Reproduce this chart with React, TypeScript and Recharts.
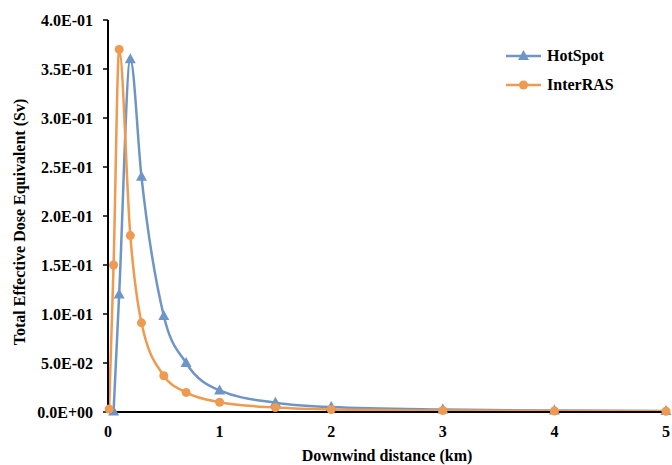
import React from 'react';
import { LineChart, Line, XAxis, YAxis, Legend, Label } from 'recharts';

const hotspotDist = [0.05, 0.1, 0.2, 0.3, 0.5, 0.7, 1, 1.5, 2, 3, 4, 5];
const hotspotDose = [0.0005, 0.12, 0.36, 0.24, 0.098, 0.05, 0.022, 0.0095, 0.005, 0.0025, 0.0015, 0.001];
const interrasDist = [0.01, 0.05, 0.1, 0.2, 0.3, 0.5, 0.7, 1, 1.5, 2, 3, 4, 5];
const interrasDose = [0.003, 0.15, 0.37, 0.18, 0.091, 0.037, 0.02, 0.01, 0.0045, 0.0025, 0.0015, 0.001, 0.0008];
const xTicks = [0, 1, 2, 3, 4, 5];
const yTicks = [0, 0.05, 0.1, 0.15, 0.2, 0.25, 0.3, 0.35, 0.4];

const BLUE = '#6F95C7';
const ORANGE = '#EE9A50';
const FONT = '"Liberation Serif", "Times New Roman", serif';

const hotspotData = hotspotDist.map((d, i) => ({ dist: d, dose: hotspotDose[i] }));
const interrasData = interrasDist.map((d, i) => ({ dist: d, dose: interrasDose[i] }));

// Excel-style scientific label: 5.0E-02
const sci = (v: number) => {
  if (v === 0) return '0.0E+00';
  const [m, e] = v.toExponential(1).split('e');
  const n = parseInt(e, 10);
  const sign = n < 0 ? '-' : '+';
  return `${m}E${sign}${String(Math.abs(n)).padStart(2, '0')}`;
};

const Triangle = (props: any) => {
  const { cx, cy, index } = props;
  if (cx == null || cy == null) return <g key={`t-${index}`} />;
  return (
    <polygon
      key={`t-${index}`}
      points={`${cx},${cy - 6} ${cx - 5.5},${cy + 4} ${cx + 5.5},${cy + 4}`}
      fill={BLUE}
    />
  );
};

const YTitle = (props: any) => {
  const vb = props.viewBox || { x: 0, y: 20, width: 108, height: 392 };
  const cy = vb.y + vb.height / 2 + 6;
  return (
    <text
      transform={`translate(25, ${cy}) rotate(-90)`}
      textAnchor="middle"
      fontFamily={FONT}
      fontWeight="bold"
      fontSize={16}
      fill="#000"
    >
      Total Effective Dose Equivalent (Sv)
    </text>
  );
};

const legendItems = [
  { name: 'HotSpot', color: BLUE, marker: 'triangle' },
  { name: 'InterRAS', color: ORANGE, marker: 'circle' },
];

const LegendBox = () => (
  <div style={{ fontFamily: FONT, fontWeight: 'bold', fontSize: 16, color: '#000' }}>
    {legendItems.map((it) => (
      <div key={it.name} style={{ display: 'flex', alignItems: 'center', height: 29 }}>
        <svg width={38} height={14} style={{ marginRight: 4 }}>
          <line x1={1} y1={7} x2={36} y2={7} stroke={it.color} strokeWidth={2.5} />
          {it.marker === 'triangle' ? (
            <polygon points="18.5,1 13,11 24,11" fill={it.color} />
          ) : (
            <circle cx={18.5} cy={7} r={4.5} fill={it.color} />
          )}
        </svg>
        <span>{it.name}</span>
      </div>
    ))}
  </div>
);

const App: React.FC = () => {
  return (
    <div style={{ position: 'absolute', left: 0, top: 0, width: 672, height: 465, background: '#fff' }}>
      <LineChart width={672} height={465} margin={{ top: 20, right: 6, left: 0, bottom: 0 }}>
        <XAxis
          dataKey="dist"
          type="number"
          domain={[0, 5]}
          ticks={xTicks}
          allowDuplicatedCategory={false}
          height={53}
          axisLine={{ stroke: '#000', strokeWidth: 2 }}
          tickLine={false}
          tickMargin={8}
          tick={{ fontFamily: FONT, fontWeight: 'bold', fontSize: 16, fill: '#000' }}
        >
          <Label
            value="Downwind distance (km)"
            position="insideBottom"
            offset={4}
            style={{ fontFamily: FONT, fontWeight: 'bold', fontSize: 16, fill: '#000' }}
          />
        </XAxis>
        <YAxis
          type="number"
          domain={[0, 0.4]}
          ticks={yTicks}
          width={108}
          tickFormatter={sci}
          axisLine={{ stroke: '#000', strokeWidth: 2 }}
          tickLine={{ stroke: '#000', strokeWidth: 1.5 }}
          tickSize={5}
          tickMargin={10}
          tick={{ fontFamily: FONT, fontWeight: 'bold', fontSize: 16, fill: '#000' }}
        >
          <Label content={<YTitle />} />
        </YAxis>
        <Legend
          layout="vertical"
          align="center"
          verticalAlign="middle"
          content={<LegendBox />}
          wrapperStyle={{ left: 505, top: 41, width: 'auto' }}
        />
        <Line
          data={hotspotData}
          dataKey="dose"
          name="HotSpot"
          type="monotone"
          stroke={BLUE}
          strokeWidth={2.5}
          dot={<Triangle />}
          activeDot={false}
          isAnimationActive={false}
        />
        <Line
          data={interrasData}
          dataKey="dose"
          name="InterRAS"
          type="monotone"
          stroke={ORANGE}
          strokeWidth={2.5}
          dot={{ r: 4.5, fill: ORANGE, stroke: ORANGE, strokeWidth: 0 }}
          activeDot={false}
          isAnimationActive={false}
        />
      </LineChart>
    </div>
  );
};

export default App;
